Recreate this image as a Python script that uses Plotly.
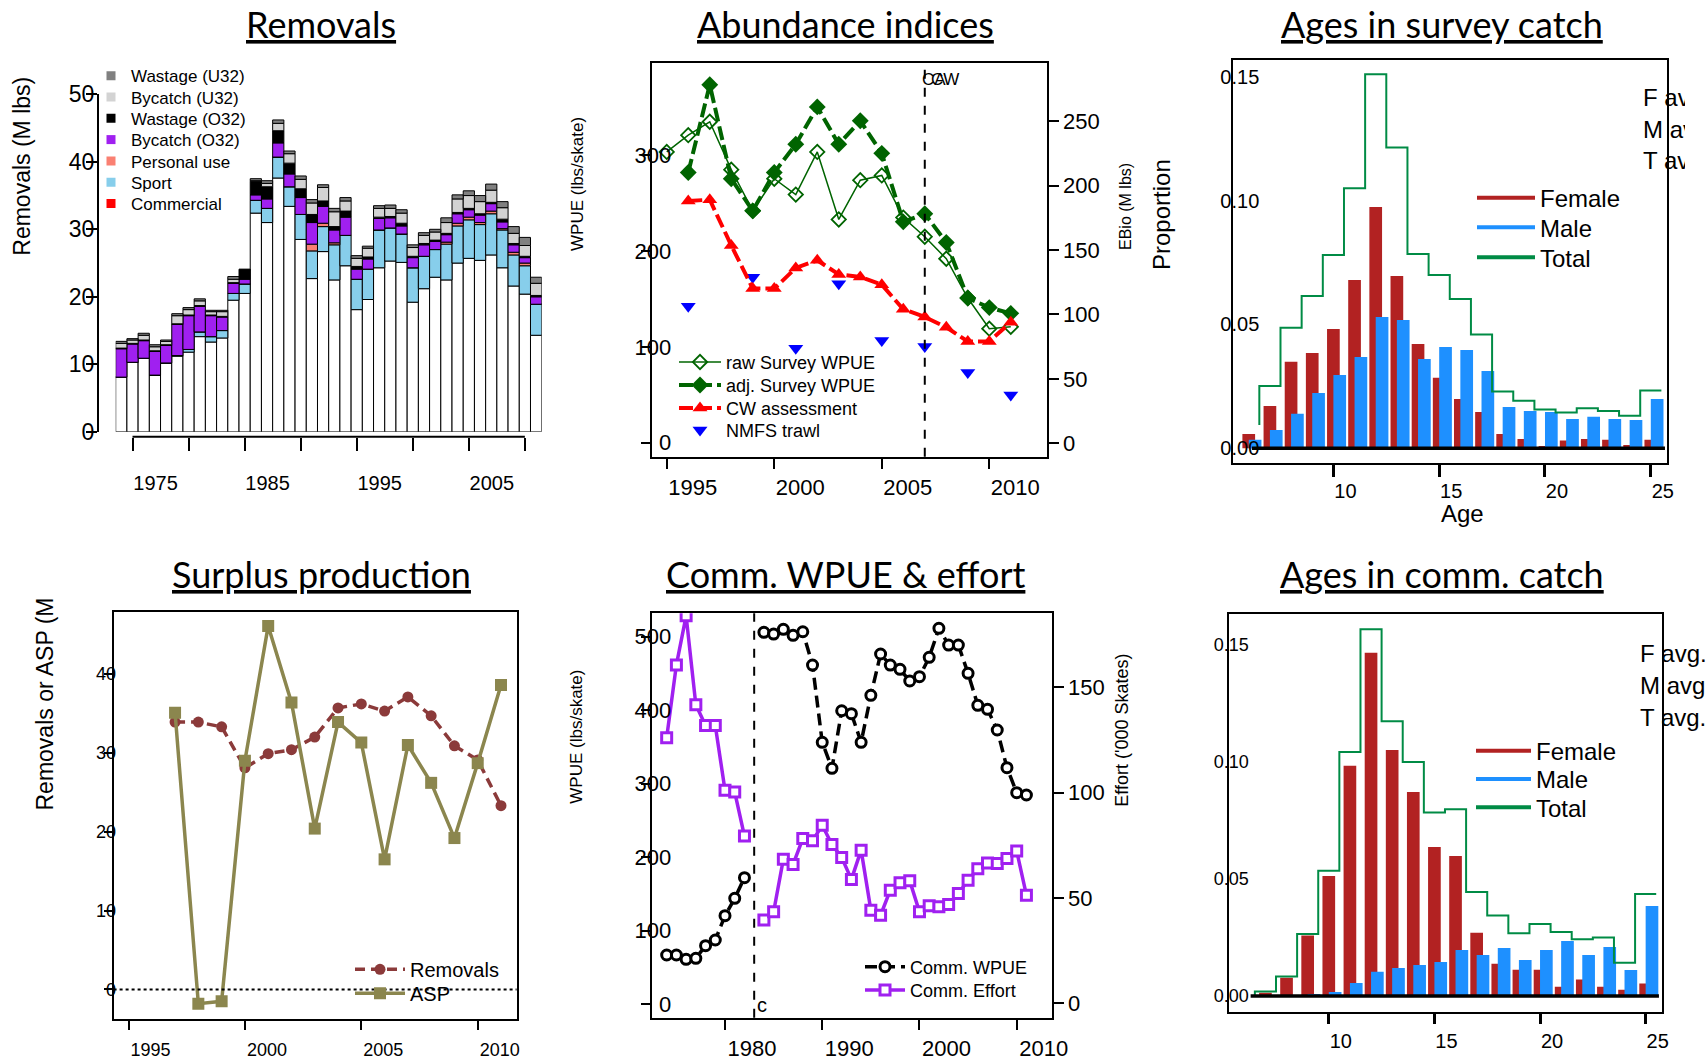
import plotly.graph_objects as go

W, H = 1706, 1063
def px(v): return v / W
def py(v): return 1 - v / H

FONT = "Liberation Sans, Arial, sans-serif"
TFONT = "Lato, sans-serif"

# ---------------- Panel 1: Removals (M lbs) ----------------
rem_years = list(range(1974, 2012))
rem_commercial = [8.1, 10.3, 10.9, 8.4, 10.2, 11.2, 11.8, 14.1, 13.3, 13.9, 19.5, 20.5, 32.4, 31.0, 37.6, 33.4,
                  28.5, 22.7, 26.7, 22.5, 24.6, 18.1, 19.6, 24.3, 25.3, 25.1, 19.2, 21.2, 22.9, 22.5, 25.0, 25.7,
                  25.4, 26.2, 24.3, 21.6, 20.4, 14.3]
rem_sport = [0, 0, 0, 0, 0, 0.1, 0.4, 0.7, 0.8, 1.1, 1.0, 1.4, 1.9, 2.1, 3.1, 2.9, 3.7, 4.1, 3.7, 5.2, 4.5, 4.5,
             4.5, 5.6, 4.9, 4.2, 5.1, 4.8, 4.1, 5.3, 5.5, 5.7, 5.3, 6.1, 5.6, 4.6, 4.2, 4.6]
rem_personal = [0, 0, 0, 0, 0, 0, 0, 0, 0, 0, 0, 0, 0, 0, 0, 0, 0, 1.0, 0.5, 0.3, 0, 0, 0, 0, 0, 0, 0, 0, 0,
                0.3, 0.4, 0.4, 0.3, 0.4, 0.2, 0.4, 0.4, 0]
rem_bycatch_o32 = [4.2, 2.7, 2.6, 3.5, 2.6, 4.6, 5.0, 3.8, 3.1, 2.0, 1.5, 0.7, 0.8, 1.4, 2.1, 1.9, 2.5, 3.2, 2.5,
                   1.9, 2.7, 1.5, 1.5, 1.7, 1.5, 1.2, 1.5, 1.7, 1.2, 1.1, 1.4, 1.1, 1.1, 1.1, 1.0, 1.1, 0.8, 1.1]
rem_wastage_o32 = [0.1, 0.1, 0.1, 0.1, 0.1, 0.1, 0.1, 0.1, 0.1, 0.1, 0.1, 1.4, 2.0, 1.8, 1.8, 1.6, 1.3, 1.2, 0.8,
                   0.5, 0.9, 0.4, 0.3, 0.2, 0.2, 0.4, 0.2, 0.2, 0.2, 0.2, 0.2, 0.2, 0.2, 0.2, 0.4, 0.2, 0.2, 0.2]
rem_bycatch_u32 = [0.7, 0.5, 0.7, 0.6, 0.5, 1.2, 0.8, 0.7, 0.5, 0.7, 0.5, 0.0, 0.1, 0.5, 1.1, 1.4, 1.4, 1.7, 2.0,
                   2.2, 1.5, 1.2, 1.3, 1.3, 1.2, 1.5, 1.3, 1.2, 1.2, 1.6, 2.0, 1.9, 1.8, 1.8, 1.7, 1.5, 1.6, 1.8]
rem_wastage_u32 = [0.3, 0.2, 0.3, 0.3, 0.2, 0.3, 0.3, 0.3, 0.2, 0.2, 0.4, 0.1, 0.3, 0.4, 0.5, 0.4, 0.5, 0.5, 0.4,
                   0.5, 0.5, 0.4, 0.3, 0.4, 0.5, 0.5, 0.4, 0.4, 0.4, 0.7, 0.6, 0.7, 0.9, 0.9, 0.9, 1.0, 1.2, 0.9]
rem_xticks = [1975, 1980, 1985, 1990, 1995, 2000, 2005, 2010]
rem_xlabels = ["1975", "", "1985", "", "1995", "", "2005", ""]
rem_yticks = [0, 10, 20, 30, 40, 50]

# ---------------- Panel 2: Abundance indices ----------------
survey_years = list(range(1995, 2012))
raw_survey_wpue = [303.5, 321, 335, 285, 242, 275.5, 259, 303.5, 233, 274, 279, 235, 215, 192, 151, 119, 121]
adj_survey_wpue = [None, 282, 373.6, 275.5, 242, 282, 311.5, 350.5, 311.5, 336, 302, 230.5, 239, 209, 151, 141, 135]
cw_assessment_ebio = [None, 188, 189, 153.5, 120, 120, 136, 142, 131, 129, 123, 104, 98, 90, 79, 79, 94]
nmfs_years = [1996, 1999, 2001, 2003, 2005, 2007, 2009, 2011]
nmfs_trawl = [142.3, 172.6, 98.7, 166.0, 106.7, 100.5, 73.2, 49.9]
cw_start_year = 2007

# ---------------- Panels 3 & 6: Ages ----------------
ages = list(range(6, 26))
survey_female = [0.0058, 0.0171, 0.0349, 0.0385, 0.0482, 0.0680, 0.0974, 0.0696, 0.0421, 0.0285, 0.0199,
                 0.0147, 0.0058, 0.0038, 0.0009, 0.0031, 0.0038, 0.0034, 0.0013, 0.0034]
survey_male = [0.0034, 0.0074, 0.0139, 0.0223, 0.0296, 0.0369, 0.0530, 0.0518, 0.0361, 0.0409, 0.0397,
               0.0312, 0.0167, 0.0151, 0.0147, 0.0118, 0.0127, 0.0118, 0.0114, 0.0199]
survey_total = [0.0094, 0.0252, 0.0487, 0.0615, 0.0781, 0.1050, 0.1510, 0.1215, 0.0785, 0.0700, 0.0603,
                0.0460, 0.0229, 0.0192, 0.0157, 0.0145, 0.0162, 0.0151, 0.0131, 0.0233]
comm_female = [0.0, 0.0014, 0.0078, 0.0258, 0.0512, 0.0983, 0.1466, 0.1050, 0.0871, 0.0636, 0.0598,
               0.0270, 0.0138, 0.0112, 0.0112, 0.0040, 0.0070, 0.0040, 0.0027, 0.0053]
comm_male = [0.0, 0.0, 0.0, 0.0009, 0.0017, 0.0056, 0.0104, 0.0120, 0.0132, 0.0145, 0.0196,
             0.0175, 0.0205, 0.0154, 0.0196, 0.0235, 0.0175, 0.0209, 0.0111, 0.0384]
comm_total = [0.0, 0.0019, 0.0083, 0.0265, 0.0535, 0.1042, 0.1566, 0.1173, 0.0999, 0.0784, 0.0797,
              0.0444, 0.0344, 0.0268, 0.0307, 0.0273, 0.0242, 0.0250, 0.0142, 0.0436]
age_ticks = [10, 15, 20, 25]
prop_ticks = [0.0, 0.05, 0.10, 0.15]
prop_labels = ["0.00", "0.05", "0.10", "0.15"]

# ---------------- Panel 4: Surplus production ----------------
sp_years = list(range(1997, 2012))
sp_removals = [33.9, 33.9, 33.3, 28.1, 29.9, 30.4, 32.0, 35.7, 36.2, 35.3, 37.1, 34.7, 30.9, 29.1, 23.3]
sp_asp = [35.1, -1.8, -1.5, 29.0, 46.1, 36.4, 20.4, 33.9, 31.3, 16.5, 31.0, 26.2, 19.2, 28.7, 38.6]

# ---------------- Panel 5: Comm. WPUE & effort ----------------
comm_years = list(range(1974, 2012))
comm_wpue = [66.7, 66.7, 60.8, 62.2, 79.4, 87.1, 120.2, 143.8, 171.9, None, 505.7, 503.4, 509.8, 501.6, 506.5,
             461.2, 356.1, 320.7, 399.0, 395.0, 356.1, 420.0, 476.2, 461.2, 455.4, 439.5, 445.4, 471.7, 511.1,
             488.4, 488.4, 449.9, 406.4, 401.0, 372.8, 321.5, 287.5, 284.4]
comm_effort = [126.1, 160.7, 184.0, 141.7, 131.9, 131.9, 101.1, 100.3, 79.4, None, 39.5, 43.4, 68.4, 65.9, 78.2,
               77.1, 84.5, 75.4, 69.2, 58.8, 72.7, 44.2, 41.8, 53.7, 57.2, 58.1, 43.4, 46.3, 45.8, 46.9, 52.1,
               58.4, 63.8, 66.6, 66.4, 68.7, 72.3, 51.3]
comm_c_year = 1983

# colours
C_COMM, C_SPORT, C_PERS, C_BYO, C_WASO, C_BYU, C_WASU = "white", "#87CEEB", "#FA8072", "#A020F0", "black", "#D3D3D3", "#808080"
C_GREEN, C_RED, C_BLUE = "#006400", "#FF0000", "#0000FF"
C_FEM, C_MALE, C_TOT = "#B22222", "#1E90FF", "#008B45"
C_REMOV, C_ASP = "#8B3A3A", "#8B864E"
C_PURPLE = "#A020F0"

fig = go.Figure()

legend_layouts = {}
_lc = [0]
def new_legend(x0, yc, fs, iw=30):
    _lc[0] += 1
    key = 'legend' if _lc[0] == 1 else 'legend%d' % _lc[0]
    h = max(fs * 1.3, 16) + 3
    top = yc - 5 - h / 2
    legend_layouts[key] = dict(x=px(x0), y=py(top), xanchor='left', yanchor='top',
                               font=dict(family=FONT, size=fs, color='black'),
                               bgcolor='rgba(0,0,0,0)', borderwidth=0, itemwidth=iw)
    return key

# ---- Panel 1 bars ----
rem_stack = [("Commercial", rem_commercial, C_COMM), ("Sport", rem_sport, C_SPORT),
             ("Personal use", rem_personal, C_PERS), ("Bycatch (O32)", rem_bycatch_o32, C_BYO),
             ("Wastage (O32)", rem_wastage_o32, C_WASO), ("Bycatch (U32)", rem_bycatch_u32, C_BYU),
             ("Wastage (U32)", rem_wastage_u32, C_WASU)]
base = [0.0] * len(rem_years)
for name, vals, color in rem_stack:
    fig.add_trace(go.Bar(x=rem_years, y=vals, base=list(base), width=1, name=name,
                         marker=dict(color=color, line=dict(color='black', width=1)),
                         xaxis='x', yaxis='y', showlegend=False))
    base = [b + v for b, v in zip(base, vals)]
rem_legend = [("Wastage (U32)", C_WASU), ("Bycatch (U32)", C_BYU), ("Wastage (O32)", C_WASO),
              ("Bycatch (O32)", C_BYO), ("Personal use", C_PERS), ("Sport", C_SPORT), ("Commercial", "red")]
for i, (name, color) in enumerate(rem_legend):
    key = new_legend(91, 75.7 + i * 21.3, 17)
    fig.add_trace(go.Scatter(x=[None], y=[None], mode='markers', name=name, legend=key,
                             marker=dict(symbol='square', size=9, color=color), xaxis='x', yaxis='y'))

# ---- Panel 2 ----
p2_rows = [362, 385, 408, 430]
fig.add_trace(go.Scatter(x=survey_years, y=raw_survey_wpue, mode='lines+markers', name='raw Survey WPUE',
                         line=dict(color=C_GREEN, width=1.5),
                         marker=dict(symbol='diamond-open', size=11, color=C_GREEN, line=dict(width=1.8)),
                         xaxis='x2', yaxis='y2', legend=new_legend(674, p2_rows[0], 18, 42)))
fig.add_trace(go.Scatter(x=survey_years, y=adj_survey_wpue, mode='lines+markers', name='adj. Survey WPUE',
                         line=dict(color=C_GREEN, width=4, dash='14px,5px'),
                         marker=dict(symbol='diamond', size=13, color=C_GREEN),
                         xaxis='x2', yaxis='y2', legend=new_legend(674, p2_rows[1], 18, 42)))
fig.add_trace(go.Scatter(x=survey_years, y=cw_assessment_ebio, mode='lines+markers', name='CW assessment',
                         line=dict(color=C_RED, width=4, dash='14px,5px'),
                         marker=dict(symbol='triangle-up', size=13, color=C_RED),
                         xaxis='x2', yaxis='y3', legend=new_legend(674, p2_rows[2], 18, 42)))
fig.add_trace(go.Scatter(x=nmfs_years, y=nmfs_trawl, mode='markers', name='NMFS trawl',
                         marker=dict(symbol='triangle-down', size=13, color=C_BLUE),
                         xaxis='x2', yaxis='y2', legend=new_legend(674, p2_rows[3], 18, 42)))

# ---- Panels 3 & 6 ----
def age_panel(xa, ya, fem, male, tot, rows, x0, iw):
    fig.add_trace(go.Bar(x=ages, y=fem, width=0.6, offset=-0.3, marker=dict(color=C_FEM, line=dict(width=0)),
                         xaxis=xa, yaxis=ya, showlegend=False, name='Female'))
    fig.add_trace(go.Bar(x=ages, y=male, width=0.6, offset=0.0, marker=dict(color=C_MALE, line=dict(width=0)),
                         xaxis=xa, yaxis=ya, showlegend=False, name='Male'))
    fig.add_trace(go.Scatter(x=[a + 0.5 for a in ages], y=tot, mode='lines', line_shape='vh',
                             line=dict(color=C_TOT, width=2), xaxis=xa, yaxis=ya, showlegend=False, name='Total'))
    for (name, color), yc in zip([("Female", C_FEM), ("Male", C_MALE), ("Total", C_TOT)], rows):
        fig.add_trace(go.Scatter(x=[None], y=[None], mode='lines', name=name, line=dict(color=color, width=4),
                                 xaxis=xa, yaxis=ya, legend=new_legend(x0, yc, 24, iw)))

age_panel('x3', 'y4', survey_female, survey_male, survey_total, [197.7, 227.3, 257.3], 1472, 58)

# ---- Panel 4 ----
fig.add_trace(go.Scatter(x=sp_years, y=sp_removals, mode='lines+markers', name='Removals',
                         line=dict(color=C_REMOV, width=3.5, dash='10px,6px'),
                         marker=dict(symbol='circle', size=11, color=C_REMOV),
                         xaxis='x4', yaxis='y5', legend=new_legend(350, 969.3, 20, 50)))
fig.add_trace(go.Scatter(x=sp_years, y=sp_asp, mode='lines+markers', name='ASP',
                         line=dict(color=C_ASP, width=3.5),
                         marker=dict(symbol='square', size=12, color=C_ASP),
                         xaxis='x4', yaxis='y5', legend=new_legend(350, 993.3, 20, 50)))

# ---- Panel 5 ----
fig.add_trace(go.Scatter(x=comm_years, y=comm_wpue, mode='lines+markers', name='Comm. WPUE',
                         line=dict(color='black', width=3.5, dash='12px,6px'), connectgaps=False,
                         marker=dict(symbol='circle', size=10, color='white', line=dict(color='black', width=3)),
                         xaxis='x5', yaxis='y6', legend=new_legend(860, 966.7, 18, 40)))
fig.add_trace(go.Scatter(x=comm_years, y=comm_effort, mode='lines+markers', name='Comm. Effort',
                         line=dict(color=C_PURPLE, width=3.5), connectgaps=False,
                         marker=dict(symbol='square', size=10, color='white', line=dict(color=C_PURPLE, width=3)),
                         xaxis='x5', yaxis='y7', legend=new_legend(860, 990, 18, 40)))

age_panel('x6', 'y8', comm_female, comm_male, comm_total, [750.7, 779, 807.3], 1471, 55)

# clipped side text for panel 3
fig.add_trace(go.Scatter(x=[1643, 1643, 1643], y=[100, 131.7, 163.3], mode='text',
                         text=["F avg.", "M avg.", "T avg."], textposition='middle right',
                         textfont=dict(family=FONT, size=24, color='black'),
                         xaxis='x7', yaxis='y9', showlegend=False, cliponaxis=True))

def axstyle(**kw):
    d = dict(showgrid=False, zeroline=False, showline=True, linecolor='black', linewidth=2, mirror=True,
             ticks='outside', tickcolor='black', tickwidth=2, ticklen=10,
             tickfont=dict(family=FONT, size=22, color='black'))
    d.update(kw)
    return d

layout = dict(
    width=W, height=H, autosize=False, margin=dict(l=0, r=0, t=0, b=0, pad=0, autoexpand=False),
    paper_bgcolor='white', plot_bgcolor='rgba(0,0,0,0)', barmode='overlay',
    font=dict(family=FONT, color='black'),
    # panel 1
    xaxis=axstyle(domain=[px(115.7), px(541.7)], range=[1973.5, 2011.5], anchor='free', position=py(436.7),
                  showline=False, mirror=False, ticklen=13, tickvals=rem_xticks, ticktext=rem_xlabels,
                  tickfont=dict(family=FONT, size=20, color='black'), ticklabelshift=23, ticklabelstandoff=15),
    yaxis=axstyle(domain=[py(431.8), py(94.3)], range=[0, 50], anchor='free', position=px(98), mirror=False,
                  ticklen=11, tickvals=rem_yticks, tickfont=dict(family=FONT, size=23, color='black'),
                  ticklabelstandoff=-13),
    # panel 2
    xaxis2=axstyle(domain=[px(651.7), px(1046.7)], range=[1994.30, 2012.67], anchor='y2',
                   tickvals=[1995, 2000, 2005, 2010], ticklabelshift=26, ticklabelstandoff=0),
    yaxis2=axstyle(domain=[py(456.7), py(63.3)], range=[-14.6, 396], anchor='x2', ticklen=9,
                   tickvals=[0, 100, 200, 300], ticklabelstandoff=-35),
    yaxis3=axstyle(overlaying='y2', side='right', anchor='x2', range=[-10.4, 294.8], showline=False, mirror=False,
                   ticklen=11, tickvals=[0, 50, 100, 150, 200, 250]),
    # panel 3
    xaxis3=axstyle(domain=[px(1233.3), px(1667.3)], range=[5.27, 25.78], anchor='y4', ticklen=12, tickwidth=3,
                   tickvals=age_ticks, tickfont=dict(family=FONT, size=20, color='black'),
                   ticklabelshift=12, ticklabelstandoff=-3),
    yaxis4=axstyle(domain=[py(463.3), py(60)], range=[-0.00606, 0.1568], anchor='x3', ticks='',
                   tickvals=prop_ticks, ticktext=prop_labels, tickfont=dict(family=FONT, size=20, color='black'),
                   ticklabelstandoff=-32),
    # panel 4
    xaxis4=axstyle(domain=[px(113.6), px(516.6)], range=[1994.36, 2011.67], anchor='y5', ticklen=9,
                   tickvals=[1995, 2000, 2005, 2010], tickfont=dict(family=FONT, size=18, color='black'),
                   ticklabelshift=22, ticklabelstandoff=4),
    yaxis5=axstyle(domain=[py(1019.3), py(611.7)], range=[-3.78, 47.9], anchor='x4', ticklen=8,
                   tickvals=[0, 10, 20, 30, 40], tickfont=dict(family=FONT, size=18, color='black'),
                   ticklabelstandoff=-16),
    # panel 5
    xaxis5=axstyle(domain=[px(651.7), px(1051.7)], range=[1972.46, 2013.6], anchor='y6',
                   tickvals=[1980, 1990, 2000, 2010], ticklabelshift=27, ticklabelstandoff=0),
    yaxis6=axstyle(domain=[py(1017.7), py(613.3)], range=[-18.6, 531.6], anchor='x5', ticklen=9,
                   tickvals=[0, 100, 200, 300, 400, 500], ticklabelstandoff=-35),
    yaxis7=axstyle(overlaying='y6', side='right', anchor='x5', range=[-6.9, 185.2], showline=False, mirror=False,
                   ticklen=11, tickvals=[0, 50, 100, 150]),
    # panel 6
    xaxis6=axstyle(domain=[px(1229.3), px(1661.7)], range=[5.29, 25.76], anchor='y8', ticklen=10, tickwidth=3,
                   tickvals=age_ticks, tickfont=dict(family=FONT, size=20, color='black'),
                   ticklabelshift=12, ticklabelstandoff=0),
    yaxis8=axstyle(domain=[py(1011.7), py(614)], range=[-0.0067, 0.1631], anchor='x6', ticks='',
                   tickvals=prop_ticks, ticktext=prop_labels, tickfont=dict(family=FONT, size=18, color='black'),
                   ticklabelstandoff=-25),
    # hidden axes for clipped text
    xaxis7=dict(domain=[px(1640), px(1685)], range=[1640, 1685], anchor='y9', visible=False),
    yaxis9=dict(domain=[py(463.3), py(60)], range=[463.3, 60], anchor='x7', visible=False),
)
layout.update(legend_layouts)

annotations = []
titles = [("Removals", 321, 24), ("Abundance indices", 845, 24), ("Ages in survey catch", 1442, 24),
          ("Surplus production", 321, 574), ("Comm. WPUE &amp; effort", 845, 574), ("Ages in comm. catch", 1442, 574)]
for t, x, y in titles:
    annotations.append(dict(text="<u>%s</u>" % t, x=px(x), y=py(y), xref='paper', yref='paper',
                            showarrow=False, xanchor='center', yanchor='middle',
                            font=dict(family=TFONT, size=36, color='black')))
axis_titles = [("Removals (M lbs)", 21.7, 166, 23, -90, 'middle'),
               ("WPUE (lbs/skate)", 577, 184, 17, -90, 'middle'),
               ("EBio (M lbs)", 1125, 207, 16, -90, 'middle'),
               ("Proportion", 1162, 215, 24, -90, 'middle'),
               ("Age", 1462, 513, 24, 0, 'middle'),
               ("Removals or ASP (M", 44, 813, 23, -90, 'bottom'),
               ("WPUE (lbs/skate)", 577, 736.7, 17, -90, 'middle'),
               ("Effort ('000 Skates)", 1121.7, 730, 18, -90, 'middle')]
for t, x, y, fs, ang, ya in axis_titles:
    annotations.append(dict(text=t, x=px(x), y=py(y), xref='paper', yref='paper', showarrow=False,
                            xanchor='center', yanchor=ya, textangle=ang,
                            font=dict(family=FONT, size=fs, color='black')))
# CW / CA labels at the dashed line (overlapping in the original)
annotations.append(dict(text="CA", x=cw_start_year, y=py(80), xref='x2', yref='paper', showarrow=False,
                        xanchor='left', yanchor='middle', xshift=-5, font=dict(family=FONT, size=17, color='black')))
annotations.append(dict(text="CW", x=cw_start_year, y=py(80), xref='x2', yref='paper', showarrow=False,
                        xanchor='left', yanchor='middle', xshift=4, font=dict(family=FONT, size=17, color='black')))
annotations.append(dict(text="c", x=comm_c_year, y=py(1005), xref='x5', yref='paper', showarrow=False,
                        xanchor='left', yanchor='middle', xshift=1, font=dict(family=FONT, size=20, color='black')))
for t, yv in zip(["F avg.", "M avg.", "T avg."], [653, 685.7, 717.3]):
    annotations.append(dict(text=t, x=px(1638), y=py(yv), xref='paper', yref='paper', showarrow=False,
                            xanchor='left', yanchor='middle', font=dict(family=FONT, size=24, color='black')))
layout['annotations'] = annotations

shapes = [
    dict(type='line', xref='x', yref='paper', x0=rem_xticks[0], x1=rem_xticks[-1], y0=py(436.7), y1=py(436.7),
         line=dict(color='black', width=2)),
    dict(type='line', xref='x2', yref='y2 domain', x0=cw_start_year, x1=cw_start_year, y0=0, y1=1,
         line=dict(color='black', width=2, dash='dash')),
    dict(type='line', xref='x3', yref='y4', x0=6.15, x1=25.67, y0=0, y1=0, line=dict(color='black', width=3.5)),
    dict(type='line', xref='x4 domain', yref='y5', x0=0, x1=1, y0=0, y1=0,
         line=dict(color='black', width=2, dash='dot')),
    dict(type='line', xref='x5', yref='y6 domain', x0=comm_c_year, x1=comm_c_year, y0=0, y1=1,
         line=dict(color='black', width=2, dash='dash')),
    dict(type='line', xref='x6', yref='y8', x0=6.3, x1=25.63, y0=0, y1=0, line=dict(color='black', width=3.5)),
]
layout['shapes'] = shapes

fig.update_layout(**layout)
fig.write_html("out.html", config={'displayModeBar': False},
               post_script="document.body.style.margin='0px';")
